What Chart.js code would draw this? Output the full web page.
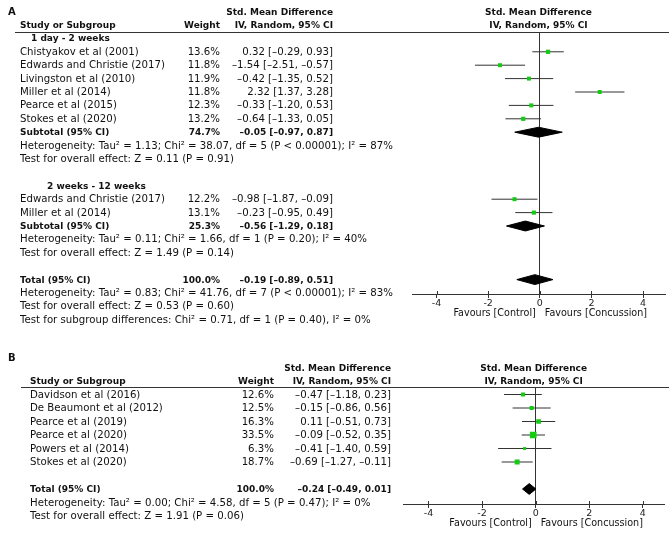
<!DOCTYPE html>
<html>
<head>
<meta charset="utf-8">
<script src="https://cdn.jsdelivr.net/npm/chart.js@4.4.0/dist/chart.umd.min.js"></script>
<style>
    body { margin: 0; width: 669px; height: 535px; background: #fff; position: relative; overflow: hidden;
           font-family: "DejaVu Sans", sans-serif; color: #111; }
    .panel { position: absolute; left: 0; width: 669px; }
    .t { position: absolute; white-space: nowrap; line-height: 12px; font-size: 10.2px; }
    .b { font-weight: bold; font-size: 9px; }
    .fav { font-size: 9.6px; }
    .letra { font-weight: bold; font-size: 10px; }
    .linea { position: absolute; height: 0; border-top: 1px solid #333; }
</style>
</head>
<body>
<div class="panel" id="panelA" style="top:0;height:330px"><canvas id="chartA"></canvas></div>
<div class="panel" id="panelB" style="top:340px;height:195px"><canvas id="chartB"></canvas></div>
<script>
// ---- Panel A: 1 day - 2 weeks ----
const estudiosA1 = ["Chistyakov et al (2001)", "Edwards and Christie (2017)", "Livingston et al (2010)",
                    "Miller et al (2014)", "Pearce et al (2015)", "Stokes et al (2020)"];
const pesosA1 = [13.6, 11.8, 11.9, 11.8, 12.3, 13.2];
const smdA1 = [0.32, -1.54, -0.42, 2.32, -0.33, -0.64];
const inferiorA1 = [-0.29, -2.51, -1.35, 1.37, -1.20, -1.33];
const superiorA1 = [0.93, -0.57, 0.52, 3.28, 0.53, 0.05];
const subtotalA1 = [74.7, -0.05, -0.97, 0.87]; // peso, smd, inferior, superior
const notasA1 = ["Heterogeneity: Tau² = 1.13; Chi² = 38.07, df = 5 (P < 0.00001); I² = 87%",
                 "Test for overall effect: Z = 0.11 (P = 0.91)"];

// ---- Panel A: 2 weeks - 12 weeks ----
const estudiosA2 = ["Edwards and Christie (2017)", "Miller et al (2014)"];
const pesosA2 = [12.2, 13.1];
const smdA2 = [-0.98, -0.23];
const inferiorA2 = [-1.87, -0.95];
const superiorA2 = [-0.09, 0.49];
const subtotalA2 = [25.3, -0.56, -1.29, 0.18];
const notasA2 = ["Heterogeneity: Tau² = 0.11; Chi² = 1.66, df = 1 (P = 0.20); I² = 40%",
                 "Test for overall effect: Z = 1.49 (P = 0.14)"];

const totalA = [100.0, -0.19, -0.89, 0.51];
const notasTotalA = ["Heterogeneity: Tau² = 0.83; Chi² = 41.76, df = 7 (P < 0.00001); I² = 83%",
                     "Test for overall effect: Z = 0.53 (P = 0.60)",
                     "Test for subgroup differences: Chi² = 0.71, df = 1 (P = 0.40), I² = 0%"];

// ---- Panel B ----
const estudiosB = ["Davidson et al (2016)", "De Beaumont et al (2012)", "Pearce et al (2019)",
                   "Pearce et al (2020)", "Powers et al (2014)", "Stokes et al (2020)"];
const pesosB = [12.6, 12.5, 16.3, 33.5, 6.3, 18.7];
const smdB = [-0.47, -0.15, 0.11, -0.09, -0.41, -0.69];
const inferiorB = [-1.18, -0.86, -0.51, -0.52, -1.40, -1.27];
const superiorB = [0.23, 0.56, 0.73, 0.35, 0.59, -0.11];
const totalB = [100.0, -0.24, -0.49, 0.01];
const notasTotalB = ["Heterogeneity: Tau² = 0.00; Chi² = 4.58, df = 5 (P = 0.47); I² = 0%",
                     "Test for overall effect: Z = 1.91 (P = 0.06)"];

const ticksX = [-4, -2, 0, 2, 4];

// numeros con signo menos largo, como en RevMan
function fmt(v) {
    return v.toFixed(2).replace("-", "\u2013");
}

function agregarEstudios(filas, r, nombres, pesos, smd, inf, sup) {
    nombres.forEach(function (nombre, i) {
        filas.push({fila: r++, tipo: "estudio", texto: nombre, peso: pesos[i], smd: smd[i], inf: inf[i], sup: sup[i]});
    });
    return r;
}

function filaResumen(r, tipo, texto, valores) {
    return {fila: r, tipo: tipo, texto: texto, peso: valores[0], smd: valores[1], inf: valores[2], sup: valores[3]};
}

// Filas del panel A (la fila 0 es la cabecera)
let filasA = [];
let r = 1;
filasA.push({fila: r++, tipo: "grupo", texto: "1 day - 2 weeks", sangria: 11});
r = agregarEstudios(filasA, r, estudiosA1, pesosA1, smdA1, inferiorA1, superiorA1);
filasA.push(filaResumen(r++, "subtotal", "Subtotal (95% CI)", subtotalA1));
notasA1.forEach(function (n) { filasA.push({fila: r++, tipo: "nota", texto: n}); });
r++;
filasA.push({fila: r++, tipo: "grupo", texto: "2 weeks - 12 weeks", sangria: 27});
r = agregarEstudios(filasA, r, estudiosA2, pesosA2, smdA2, inferiorA2, superiorA2);
filasA.push(filaResumen(r++, "subtotal", "Subtotal (95% CI)", subtotalA2));
notasA2.forEach(function (n) { filasA.push({fila: r++, tipo: "nota", texto: n}); });
r++;
filasA.push(filaResumen(r++, "total", "Total (95% CI)", totalA));
notasTotalA.forEach(function (n) { filasA.push({fila: r++, tipo: "nota", texto: n}); });

// Filas del panel B
let filasB = [];
r = agregarEstudios(filasB, 1, estudiosB, pesosB, smdB, inferiorB, superiorB);
r++;
filasB.push(filaResumen(r++, "total", "Total (95% CI)", totalB));
notasTotalB.forEach(function (n) { filasB.push({fila: r++, tipo: "nota", texto: n}); });

// marcas del eje que sobresalen hacia arriba
const marcasEje = {
    id: "marcasEje",
    afterDraw: function (chart) {
        const escala = chart.scales.x;
        const ctx = chart.ctx;
        ctx.save();
        ctx.strokeStyle = "#333";
        ctx.lineWidth = 1;
        escala.ticks.forEach(function (t) {
            const px = Math.round(escala.getPixelForValue(t.value)) + 0.5;
            ctx.beginPath();
            ctx.moveTo(px, escala.top - 3);
            ctx.lineTo(px, escala.top);
            ctx.stroke();
        });
        ctx.restore();
    }
};

function texto(panel, contenido, x, y, alinear, clase) {
    const d = document.createElement("div");
    d.className = "t " + (clase || "");
    d.textContent = contenido;
    if (alinear === "right") {
        d.style.right = (669 - x) + "px";
    } else if (alinear === "center") {
        d.style.left = (x - 150) + "px";
        d.style.width = "300px";
        d.style.textAlign = "center";
    } else {
        d.style.left = x + "px";
    }
    d.style.top = (y - 6) + "px";
    panel.appendChild(d);
}

function GraficaForest(idCanvas, idPanel, filas, conf) {
    const ctx = document.getElementById(idCanvas).getContext("2d");
    const panel = document.getElementById(idPanel);
    const estudios = filas.filter(function (f) { return f.tipo === "estudio"; });
    const resumenes = filas.filter(function (f) { return f.tipo === "subtotal" || f.tipo === "total"; });

    const datasets = [];
    // cuadrados verdes, tamaño segun el peso
    datasets.push({
        data: estudios.map(function (f) { return {x: f.smd, y: f.fila}; }),
        pointStyle: "rect",
        pointRadius: estudios.map(function (f) { return Math.sqrt(f.peso) * 1.15 / Math.SQRT2; }),
        backgroundColor: "#11cc11",
        borderWidth: 0,
        order: 0
    });
    // intervalos de confianza
    estudios.forEach(function (f) {
        datasets.push({
            data: [{x: f.inf, y: f.fila}, {x: f.sup, y: f.fila}],
            showLine: true,
            pointRadius: 0,
            borderColor: "#333",
            borderWidth: 1,
            order: 2
        });
    });
    // diamantes de subtotal y total
    resumenes.forEach(function (f) {
        const h = conf.mitadDiamante;
        datasets.push({
            data: [{x: f.inf, y: f.fila}, {x: f.smd, y: f.fila - h}, {x: f.sup, y: f.fila},
                   {x: f.smd, y: f.fila + h}, {x: f.inf, y: f.fila}],
            showLine: true,
            fill: "shape",
            backgroundColor: "#000",
            borderColor: "#000",
            borderWidth: 1,
            pointRadius: 0,
            order: 1
        });
    });

    const chart = new Chart(ctx, {
        type: "scatter",
        data: {datasets: datasets},
        plugins: [marcasEje],
        options: {
            responsive: true,
            maintainAspectRatio: false,
            animation: false,
            layout: {padding: {left: conf.izquierda, right: 0, top: conf.arriba, bottom: conf.abajo}},
            plugins: {legend: {display: false}, tooltip: {enabled: false}},
            scales: {
                x: {
                    type: "linear",
                    min: conf.xMin,
                    max: conf.xMax,
                    afterBuildTicks: function (escala) {
                        escala.ticks = ticksX.map(function (v) { return {value: v}; });
                    },
                    afterFit: function (escala) {
                        escala.height = 20;
                        escala.paddingLeft = 0;
                        escala.paddingRight = 0;
                    },
                    grid: {
                        drawOnChartArea: true,
                        color: function (c) { return c.tick && c.tick.value === 0 ? "#333" : "rgba(0,0,0,0)"; },
                        tickColor: "#333",
                        tickLength: 4,
                        lineWidth: 1
                    },
                    border: {display: true, color: "#333", width: 1},
                    ticks: {color: "#222", font: {family: "DejaVu Sans", size: 9.5}, padding: 0, maxRotation: 0}
                },
                y: {type: "linear", reverse: true, min: conf.yMin, max: conf.yMax, display: false}
            }
        }
    });

    // textos de la tabla, colocados con la escala y
    const escalaY = chart.scales.y;
    const escalaX = chart.scales.x;
    function yFila(f) { return escalaY.getPixelForValue(f); }
    const centroPlot = (chart.chartArea.left + chart.chartArea.right) / 2;

    texto(panel, conf.letra, 8, yFila(-1) + conf.ajusteLetra, "left", "letra");
    texto(panel, "Std. Mean Difference", conf.colCI, yFila(-1), "right", "b");
    texto(panel, "Std. Mean Difference", centroPlot, yFila(-1), "center", "b");
    texto(panel, "Study or Subgroup", conf.colNombre, yFila(0), "left", "b");
    texto(panel, "Weight", conf.colPeso, yFila(0), "right", "b");
    texto(panel, "IV, Random, 95% CI", conf.colCI, yFila(0), "right", "b");
    texto(panel, "IV, Random, 95% CI", centroPlot, yFila(0), "center", "b");

    const linea = document.createElement("div");
    linea.className = "linea";
    linea.style.left = conf.lineaIzq + "px";
    linea.style.right = "0px";
    linea.style.top = Math.round(chart.chartArea.top) + "px";
    panel.appendChild(linea);

    filas.forEach(function (f) {
        const y = yFila(f.fila);
        if (f.tipo === "grupo") {
            texto(panel, f.texto, conf.colNombre + f.sangria, y, "left", "b");
        } else if (f.tipo === "nota") {
            texto(panel, f.texto, conf.colNombre, y, "left");
        } else {
            const clase = f.tipo === "estudio" ? "" : "b";
            texto(panel, f.texto, conf.colNombre, y, "left", clase);
            texto(panel, f.peso.toFixed(1) + "%", conf.colPeso, y, "right", clase);
            texto(panel, fmt(f.smd) + " [" + fmt(f.inf) + ", " + fmt(f.sup) + "]", conf.colCI, y, "right", clase);
        }
    });

    // etiquetas Favours bajo el eje
    const cero = escalaX.getPixelForValue(0);
    const yFav = chart.chartArea.bottom + 19;
    texto(panel, "Favours [Control]", cero - 4, yFav, "right", "fav");
    texto(panel, "Favours [Concussion]", cero + 5, yFav, "left", "fav");
    return chart;
}

// Panel A: fila 0 en y=25, paso 13.4 px
GraficaForest("chartA", "panelA", filasA, {
    letra: "A", ajusteLetra: 0,
    izquierda: 412, arriba: 32, abajo: 330 - 294 - 20,
    xMin: -4.95, xMax: 4.85,
    yMin: (32 - 25) / 13.4, yMax: (294 - 25) / 13.4,
    mitadDiamante: 0.37,
    colNombre: 20, colPeso: 220, colCI: 333, lineaIzq: 15
});

// Panel B: fila 0 en y=41 (relativo al panel), paso 13.5 px
GraficaForest("chartB", "panelB", filasB, {
    letra: "B", ajusteLetra: -10,
    izquierda: 403, arriba: 47, abajo: 195 - 164 - 20,
    xMin: -4.95, xMax: 4.8,
    yMin: (47 - 41) / 13.5, yMax: (164 - 41) / 13.5,
    mitadDiamante: 0.4,
    colNombre: 30, colPeso: 274, colCI: 391, lineaIzq: 21
});
</script>
</body>
</html>
